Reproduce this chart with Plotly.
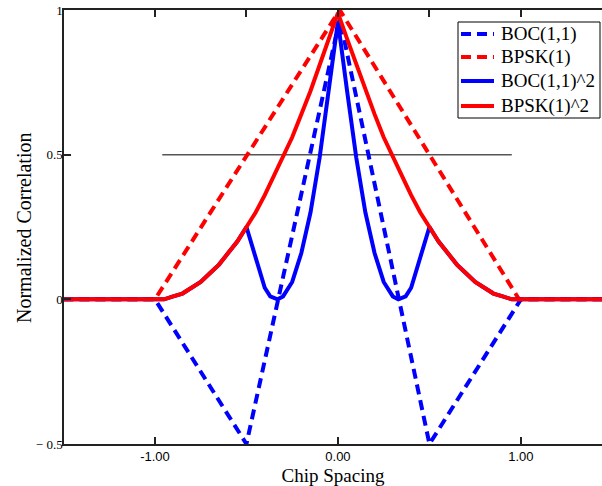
import plotly.graph_objects as go

# Chip offsets (in chips) for the piecewise-linear correlation functions
boc_x = [-1.5, -1.0, -0.5, 0.01, 0.5, 1.0, 1.45]
boc_corr = [0.0, 0.0, -0.5, 0.97, -0.5, 0.0, 0.0]

bpsk_x = [-1.5, -1.0, 0.01, 0.99, 1.45]
bpsk_corr = [0.0, 0.0, 1.0, 0.0, 0.0]

# Sample positions for the squared correlation curves
sq_x = [-1.5,
        -1.00, -0.95, -0.90, -0.85, -0.80, -0.75, -0.70, -0.65, -0.60, -0.55,
        -0.50, -0.45, -0.40, -0.37, -0.33, -0.30, -0.25, -0.20, -0.15, -0.10,
        -0.05, 0.00, 0.05,
        0.10, 0.15, 0.20, 0.25, 0.30, 0.33, 0.37, 0.40, 0.45, 0.50,
        0.55, 0.60, 0.65, 0.70, 0.75, 0.80, 0.85, 0.90, 0.95, 1.00,
        1.45]

boc_sq = [0.0,
          0.00, 0.00, 0.01, 0.02, 0.04, 0.06, 0.09, 0.12, 0.16, 0.20,
          0.25, 0.14, 0.04, 0.01, 0.00, 0.01, 0.06, 0.16, 0.30, 0.49,
          0.72, 0.96, 0.72,
          0.49, 0.30, 0.16, 0.06, 0.01, 0.00, 0.01, 0.04, 0.14, 0.25,
          0.20, 0.16, 0.12, 0.09, 0.06, 0.04, 0.02, 0.01, 0.00, 0.00,
          0.0]

bpsk_sq = [0.0,
           0.00, 0.00, 0.01, 0.02, 0.04, 0.06, 0.09, 0.12, 0.16, 0.20,
           0.25, 0.30, 0.36, 0.40, 0.45, 0.49, 0.56, 0.64, 0.72, 0.81,
           0.90, 0.99, 0.90,
           0.81, 0.72, 0.64, 0.56, 0.49, 0.45, 0.40, 0.36, 0.30, 0.25,
           0.20, 0.16, 0.12, 0.09, 0.06, 0.04, 0.02, 0.01, 0.00, 0.00,
           0.0]

# Half-correlation reference level
half_x = [-0.96, 0.95]
half_y = [0.5, 0.5]

x_tick_vals = [-1.0, 0.0, 1.0]
x_tick_text = ["-1.00", "0.00", "1.00"]
top_tick_vals = [-1.0, -0.5, 0.0, 0.5, 1.0]
y_tick_vals = [-0.5, 0.0, 0.5, 1.0]
y_tick_text = ["\u2212 0.5", "0", "0.5", "1"]

series_names = ["BOC(1,1)", "BPSK(1)", "BOC(1,1)^2", "BPSK(1)^2"]

BLUE = "#0000FF"
RED = "#FF0000"
AXIS = "#222222"
SERIF = "Liberation Serif, Times New Roman, serif"
SANS = "Liberation Sans, Arial, sans-serif"
DASH = "10px,6px"
LW = 4

series_styles = [
    dict(color=BLUE, width=LW, dash=DASH),
    dict(color=RED, width=LW, dash=DASH),
    dict(color=BLUE, width=LW),
    dict(color=RED, width=LW),
]

# Figure geometry (pixels)
W, H = 602, 486
ML, MR, MT, MB = 64, 0, 10, 42
PW, PH = W - ML - MR, H - MT - MB


def px(xp):
    return (xp - ML) / PW


def py(yp):
    return 1 - (yp - MT) / PH


fig = go.Figure()

fig.add_trace(go.Scatter(x=half_x, y=half_y, mode="lines",
                         line=dict(color="#555555", width=1.5),
                         showlegend=False, hoverinfo="skip"))

series = [(boc_x, boc_corr), (bpsk_x, bpsk_corr), (sq_x, boc_sq), (sq_x, bpsk_sq)]
for (xs, ys), name, style in zip(series, series_names, series_styles):
    fig.add_trace(go.Scatter(x=xs, y=ys, mode="lines", name=name,
                             line=style, showlegend=False))

# Empty trace that carries the top axis
fig.add_trace(go.Scatter(x=[None], y=[None], xaxis="x2", showlegend=False,
                         hoverinfo="skip"))

# Boxed key in the upper right corner
shapes = [dict(type="rect", xref="paper", yref="paper",
               x0=px(458), x1=px(600), y0=py(118), y1=py(22),
               line=dict(color="black", width=1), fillcolor="white",
               layer="above")]
annotations = []
row_y = [34, 57, 81, 106]
for ry, name, style in zip(row_y, series_names, series_styles):
    shapes.append(dict(type="line", xref="paper", yref="paper",
                       x0=px(461), x1=px(494), y0=py(ry), y1=py(ry),
                       line=dict(color=style["color"], width=style["width"],
                                 dash=style.get("dash", "solid")),
                       layer="above"))
    annotations.append(dict(x=px(499), y=py(ry), xref="paper", yref="paper",
                            text=name, showarrow=False, xanchor="left",
                            yanchor="middle",
                            font=dict(family=SERIF, size=19, color="black")))

# Vertical axis title
annotations.append(dict(x=px(24), y=py(228), xref="paper", yref="paper",
                        text="Normalized Correlation", showarrow=False,
                        textangle=-90, xanchor="center", yanchor="middle",
                        font=dict(family=SERIF, size=20, color="black")))

x_range = [-1.497, 1.443]

fig.update_layout(
    width=W, height=H,
    margin=dict(l=ML, r=MR, t=MT, b=MB),
    paper_bgcolor="white", plot_bgcolor="white",
    showlegend=False,
    shapes=shapes,
    annotations=annotations,
    xaxis=dict(
        range=x_range, showgrid=False, zeroline=False,
        showline=True, linecolor=AXIS, linewidth=1.5,
        ticks="inside", ticklen=7, tickwidth=1.5, tickcolor=AXIS,
        tickvals=x_tick_vals, ticktext=x_tick_text,
        tickfont=dict(family=SANS, size=13, color="black"),
        ticklabelstandoff=0,
        title=dict(text="Chip Spacing", standoff=6,
                   font=dict(family=SERIF, size=19, color="black")),
    ),
    xaxis2=dict(
        range=x_range, overlaying="x", side="top", showgrid=False,
        zeroline=False, showline=True, linecolor=AXIS, linewidth=1.5,
        ticks="inside", ticklen=7, tickwidth=1.5, tickcolor=AXIS,
        tickvals=top_tick_vals, showticklabels=False,
    ),
    yaxis=dict(
        range=[-0.5, 1.0], showgrid=False, zeroline=False,
        showline=True, linecolor=AXIS, linewidth=1.5,
        ticks="inside", ticklen=7, tickwidth=1.5, tickcolor=AXIS,
        tickvals=y_tick_vals, ticktext=y_tick_text,
        tickfont=dict(family=SERIF, size=13, color="black"),
        ticklabelstandoff=-3,
    ),
)

fig.write_html("out.html")
